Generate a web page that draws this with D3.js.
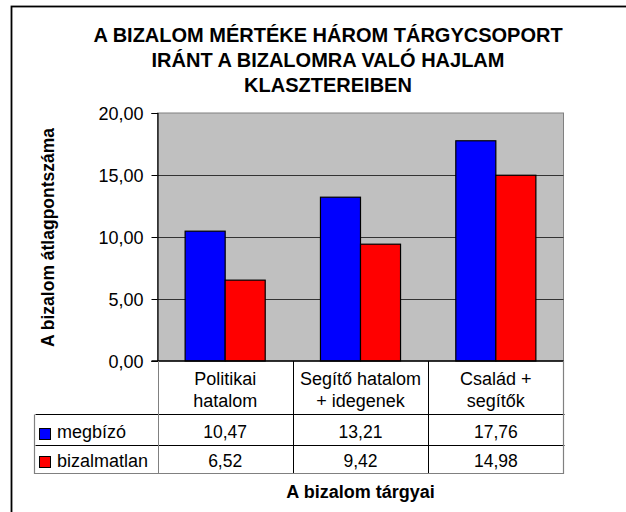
<!DOCTYPE html>
<html><head><meta charset="utf-8">
<script src="https://cdn.jsdelivr.net/npm/d3@7"></script>
<style>body{margin:0;background:#fff}svg{display:block;font-family:"Liberation Sans",Arial,sans-serif}</style>
</head><body><svg id="c" width="626" height="512"></svg>
<script>
const categories = [["Politikai","hatalom"],["Segítő hatalom","+ idegenek"],["Család +","segítők"]];
const seriesNames = ["megbízó","bizalmatlan"];
const seriesColors = ["#0000ff","#ff0000"];
const megbizo = [10.47, 13.21, 17.76];
const bizalmatlan = [6.52, 9.42, 14.98];
const yTicks = [0,5,10,15,20];
const titleLines = ["A BIZALOM MÉRTÉKE HÁROM TÁRGYCSOPORT","IRÁNT A BIZALOMRA VALÓ HAJLAM","KLASZTEREIBEN"];
const yTitle = "A bizalom átlagpontszáma";
const xTitle = "A bizalom tárgyai";

const values = [megbizo, bizalmatlan];
const fmt = v => d3.format(".2f")(v).replace(".", ",");
const svg = d3.select("#c");

// outer border
svg.append("rect").attr("x",11.5).attr("y",6.5).attr("width",640).attr("height",520)
  .attr("fill","#fff").attr("stroke","#000").attr("stroke-width",1.8);

// title
svg.append("g").selectAll("text").data(titleLines).join("text")
  .attr("x",328).attr("y",(d,i)=>42+i*25).attr("text-anchor","middle")
  .attr("font-weight","bold").attr("font-size","20px").text(d=>d);

const L=157.5, R=563.5, T=113, B=361;
const y = d3.scaleLinear().domain([0,20]).range([B,T]);
const x0 = d3.scaleBand().domain(d3.range(categories.length)).range([L,R]);
const x1 = d3.scaleBand().domain(d3.range(seriesNames.length)).range([0,x0.bandwidth()]).paddingInner(0).paddingOuter(0.69);

svg.append("rect").attr("x",L).attr("y",T).attr("width",R-L).attr("height",B-T)
  .attr("fill","#c0c0c0").attr("stroke","#808080");

// gridlines
svg.append("g").selectAll("line").data(yTicks.filter(t=>t>0 && t<20)).join("line")
  .attr("x1",L).attr("x2",R).attr("y1",d=>Math.round(y(d))+0.5).attr("y2",d=>Math.round(y(d))+0.5)
  .attr("stroke","#333").attr("stroke-width",1.2);

// bars
const g = svg.append("g");
categories.forEach((c,ci)=>{
  seriesNames.forEach((s,si)=>{
    const v = values[si][ci];
    g.append("rect").attr("x",x0(ci)+x1(si)).attr("y",y(v)).attr("width",x1.bandwidth()).attr("height",y(0)-y(v))
      .attr("fill",seriesColors[si]).attr("stroke","#000").attr("stroke-width",1.2);
  });
});

// y axis
const yAxis = d3.axisLeft(y).tickValues(yTicks).tickFormat(fmt).tickSize(6).tickPadding(8);
const ya = svg.append("g").attr("transform",`translate(${L},0)`).call(yAxis);
ya.select(".domain").attr("stroke","#000").attr("stroke-width",1.2);
ya.selectAll(".tick line").attr("stroke","#000");
ya.selectAll("text").attr("font-size","18px").attr("font-family","Liberation Sans, Arial, sans-serif").attr("fill","#000").attr("dy","0.36em");

// x axis line
svg.append("line").attr("x1",L-6).attr("x2",R).attr("y1",B).attr("y2",B).attr("stroke","#000").attr("stroke-width",1.5);

// y title
svg.append("text").attr("transform",`translate(54,237.5) rotate(-90)`).attr("text-anchor","middle")
  .attr("font-weight","bold").attr("font-size","17.5px").text(yTitle);

// data table
const tL = 34.5, hB = 414.5, r1 = 445.5, r2 = 473.5;
const tbl = svg.append("g");
categories.forEach((c,ci)=>{
  const cx = x0(ci)+x0.bandwidth()/2;
  c.forEach((ln,li)=>{
    tbl.append("text").attr("x",cx).attr("y",384.5+li*22).attr("text-anchor","middle").attr("font-size","18px").text(ln);
  });
  values.forEach((vals,si)=>{
    tbl.append("text").attr("x",cx).attr("y",(si===0?438:467)).attr("text-anchor","middle").attr("font-size","17.5px").text(fmt(vals[ci]));
  });
});
// legend cells
seriesNames.forEach((s,si)=>{
  const top = si===0?428.5:456.5;
  tbl.append("rect").attr("x",39.5).attr("y",top).attr("width",11).attr("height",11)
    .attr("fill",seriesColors[si]).attr("stroke","#000");
  tbl.append("text").attr("x",57).attr("y",si===0?438:467).attr("font-size","18px").text(s);
});
// table lines
const lines = [];
lines.push([tL,hB,R,hB,"#000"]);
lines.push([tL,r1,R,r1,"#000"]);
lines.push([L,B,L,r2,"#808080"]);
x0.domain().slice(1).forEach(ci=>lines.push([x0(ci),B,x0(ci),r2,"#000"]));
tbl.selectAll("line").data(lines).join("line")
  .attr("x1",d=>Math.round(d[0])+0.5).attr("y1",d=>d[1]).attr("x2",d=>Math.round(d[2])+0.5).attr("y2",d=>d[3]).attr("stroke",d=>d[4]);
tbl.append("path").attr("d",`M${tL},${hB}V${r2}H${R}V${B}`).attr("fill","none").attr("stroke","#808080").attr("stroke-width",1.2);

// x title
svg.append("text").attr("x",(L+R)/2).attr("y",497.5).attr("text-anchor","middle")
  .attr("font-weight","bold").attr("font-size","18px").text(xTitle);
</script></body></html>
